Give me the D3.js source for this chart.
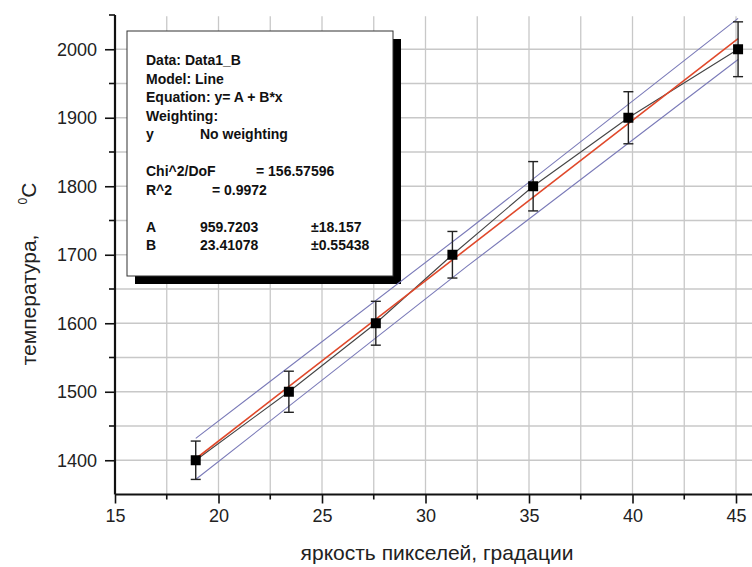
<!DOCTYPE html>
<html><head><meta charset="utf-8">
<script src="https://cdn.jsdelivr.net/npm/d3@7"></script>
<style>
html,body{margin:0;padding:0;background:#fff;}
svg{display:block;font-family:"Liberation Sans",Arial,sans-serif;}
</style></head>
<body><svg id="c" width="752" height="567"></svg>
<script>
// ---- data ----
const brightness = [18.9, 23.4, 27.6, 31.3, 35.2, 39.8, 45.1];
const temperature = [1400, 1500, 1600, 1700, 1800, 1900, 2000];
const errors = [28, 30, 32, 34, 36, 38, 40];
const fitA = 959.7203, fitB = 23.41078;
const bandX = [18.9, 32, 45.1];
const bandUpper = [1432, 1735, 2045];
const bandLower = [1372, 1683, 1985];
const xTicks = [15, 20, 25, 30, 35, 40, 45];
const yTicks = [1400, 1500, 1600, 1700, 1800, 1900, 2000];
const statsLines = [
  ["Data: Data1_B"],
  ["Model: Line"],
  ["Equation: y= A + B*x"],
  ["Weighting:"],
  ["y", "No weighting"],
  [""],
  ["Chi^2/DoF", "", "= 156.57596"],
  ["R^2", "= 0.9972"],
  [""],
  ["A", "959.7203", "±18.157"],
  ["B", "23.41078", "±0.55438"]
];

const svg = d3.select("#c");
const x = d3.scaleLinear().domain([15, 45]).range([115, 736]);
const y = d3.scaleLinear().domain([1350, 2050]).range([494.5, 15]);

// grid
const g = svg.append("g");
const xGrid = d3.range(17.5, 45.01, 2.5);
const yGrid = d3.range(1400, 2000.01, 50);
g.selectAll(".vg").data(xGrid).join("line")
  .attr("x1", d => x(d)).attr("x2", d => x(d))
  .attr("y1", y(2048)).attr("y2", y(1350))
  .attr("stroke", "#c8c8c8").attr("stroke-width", 1.3);
g.selectAll(".hg").data(yGrid).join("line")
  .attr("x1", x(15)).attr("x2", 752)
  .attr("y1", d => y(d)).attr("y2", d => y(d))
  .attr("stroke", "#c8c8c8").attr("stroke-width", 1.3);

// axes
const xAxis = d3.axisBottom(x).tickValues(xTicks).tickSize(9).tickPadding(6).tickFormat(d3.format("d"));
const xa = svg.append("g").attr("transform", `translate(0,${y(1350)})`).call(xAxis);
xa.select(".domain").remove();
xa.append("line").attr("x1", x(15)).attr("x2", 752).attr("stroke", "#111").attr("stroke-width", 2.2);
xa.selectAll(".tick line").attr("stroke", "#111").attr("stroke-width", 1.6);
xa.selectAll(".tick text").attr("font-size", 18).attr("fill", "#222").attr("font-family", "Liberation Sans, Arial");
svg.append("g").selectAll("line").data(d3.range(17.5, 45, 5)).join("line")
  .attr("x1", d => x(d)).attr("x2", d => x(d))
  .attr("y1", y(1350)).attr("y2", y(1350) + 5)
  .attr("stroke", "#111").attr("stroke-width", 1.6);

const yAxis = d3.axisLeft(y).tickValues(yTicks).tickSize(10).tickPadding(8).tickFormat(d3.format("d"));
const ya = svg.append("g").attr("transform", `translate(${x(15)},0)`).call(yAxis);
ya.select(".domain").remove();
ya.append("line").attr("y1", y(2050)).attr("y2", y(1350)).attr("stroke", "#111").attr("stroke-width", 2.2);
ya.selectAll(".tick line").attr("stroke", "#111").attr("stroke-width", 1.6);
ya.selectAll(".tick text").attr("font-size", 18).attr("fill", "#222").attr("font-family", "Liberation Sans, Arial");
svg.append("g").selectAll("line").data(d3.range(1450, 2051, 100)).join("line")
  .attr("x1", x(15) - 6).attr("x2", x(15))
  .attr("y1", d => y(d)).attr("y2", d => y(d))
  .attr("stroke", "#111").attr("stroke-width", 1.6);

// stats box
const bx = 127, by = 31, bw = 266, bh = 245;
svg.append("rect").attr("x", bx + 8).attr("y", by + 8).attr("width", bw).attr("height", bh).attr("fill", "#000");
svg.append("rect").attr("x", bx).attr("y", by).attr("width", bw).attr("height", bh)
  .attr("fill", "#fff").attr("stroke", "#333").attr("stroke-width", 1);
const tb = svg.append("g").attr("font-size", 14).attr("font-weight", "bold").attr("fill", "#111");
statsLines.forEach((row, i) => {
  const cols = row[0] === "R^2" ? [146, 212] :
               row[0].startsWith("Chi") ? [146, 200, 256] :
               row.length === 3 ? [146, 200, 311] : [146, 200];
  row.forEach((t, j) => {
    if (!t) return;
    tb.append("text").attr("x", cols[j]).attr("y", 65 + i * 18.5).text(t);
  });
});

// bands
const band = d3.line().x(d => x(d[0])).y(d => y(d[1])).curve(d3.curveNatural);
svg.append("path").datum(bandX.map((v, i) => [v, bandUpper[i]])).attr("d", band)
  .attr("fill", "none").attr("stroke", "#7a7ab8").attr("stroke-width", 1.1);
svg.append("path").datum(bandX.map((v, i) => [v, bandLower[i]])).attr("d", band)
  .attr("fill", "none").attr("stroke", "#7a7ab8").attr("stroke-width", 1.1);

// data connecting line
svg.append("path").datum(brightness.map((v, i) => [v, temperature[i]]))
  .attr("d", d3.line().x(d => x(d[0])).y(d => y(d[1])))
  .attr("fill", "none").attr("stroke", "#444").attr("stroke-width", 1.1);

// fit line
const fx = [brightness[0], brightness[brightness.length - 1]];
svg.append("path").datum(fx.map(v => [v, fitA + fitB * v]))
  .attr("d", d3.line().x(d => x(d[0])).y(d => y(d[1])))
  .attr("fill", "none").attr("stroke", "#e0482a").attr("stroke-width", 1.6);

// error bars
const eb = svg.append("g").attr("stroke", "#222").attr("stroke-width", 1.4);
brightness.forEach((v, i) => {
  const t = temperature[i], e = errors[i];
  eb.append("line").attr("x1", x(v)).attr("x2", x(v)).attr("y1", y(t + e)).attr("y2", y(t - e));
  eb.append("line").attr("x1", x(v) - 5).attr("x2", x(v) + 5).attr("y1", y(t + e)).attr("y2", y(t + e));
  eb.append("line").attr("x1", x(v) - 5).attr("x2", x(v) + 5).attr("y1", y(t - e)).attr("y2", y(t - e));
});
// markers
svg.append("g").selectAll("rect").data(brightness).join("rect")
  .attr("x", d => x(d) - 5).attr("y", (d, i) => y(temperature[i]) - 5)
  .attr("width", 10).attr("height", 10).attr("fill", "#000");

// titles
svg.append("text").attr("x", 437).attr("y", 560).attr("text-anchor", "middle")
  .attr("font-size", 21).attr("fill", "#222").text("яркость пикселей, градации");
const yt = svg.append("text").attr("transform", "translate(36,274) rotate(-90)")
  .attr("text-anchor", "middle").attr("font-size", 21).attr("fill", "#222");
yt.append("tspan").text("температура,");
yt.append("tspan").attr("dx", 30).attr("dy", -9).attr("font-size", 12).text("0");
yt.append("tspan").attr("dy", 9).text("C");
</script></body></html>
